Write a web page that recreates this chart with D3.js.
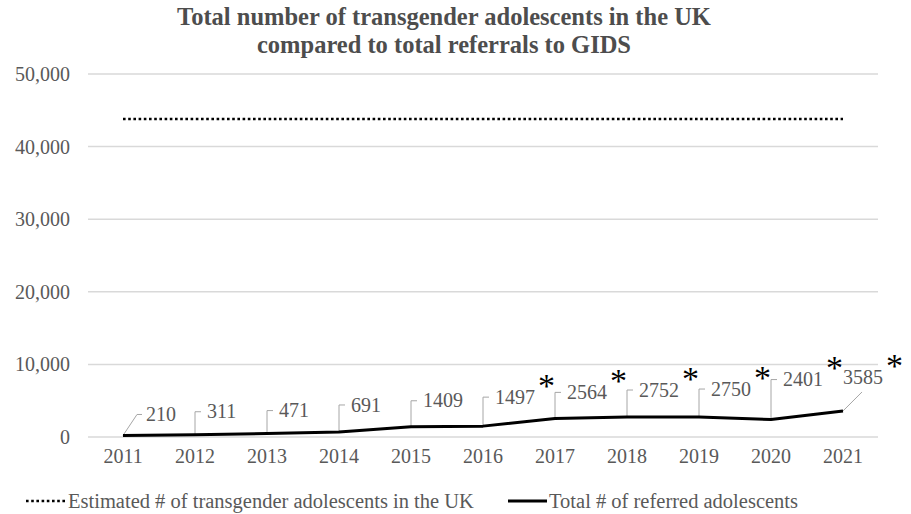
<!DOCTYPE html>
<html>
<head>
<meta charset="utf-8">
<script src="https://cdn.jsdelivr.net/npm/d3@7"></script>
<style>
  body { margin: 0; background: #fff; }
  text { font-family: "Liberation Serif", "DejaVu Serif", serif; fill: #595959; }
</style>
</head>
<body>
<div id="chart"></div>
<script>
// Data
const years = ["2011", "2012", "2013", "2014", "2015", "2016", "2017", "2018", "2019", "2020", "2021"];
const referred = [210, 311, 471, 691, 1409, 1497, 2564, 2752, 2750, 2401, 3585];
const estimated = [43800, 43800, 43800, 43800, 43800, 43800, 43800, 43800, 43800, 43800, 43800];
const starred = ["2016", "2017", "2018", "2019", "2020", "2021"];
const yTicks = [0, 10000, 20000, 30000, 40000, 50000];
const title = ["Total number of transgender adolescents in the UK", "compared to total referrals to GIDS"];
const legendLabels = ["Estimated # of transgender adolescents in the UK", "Total # of referred adolescents"];

// Label leader lifts (px above the point)
const labelLift = [21, 23, 23, 27, 26, 29, 26, 27, 28, 40, 34];

// Configuration
const W = 911, H = 514;
const margin = { top: 74, right: 32, bottom: 77, left: 87 };
const width = W - margin.left - margin.right;
const height = H - margin.top - margin.bottom;

const svg = d3.select("#chart")
    .append("svg")
    .attr("width", W)
    .attr("height", H);

const g = svg.append("g")
    .attr("transform", `translate(${margin.left}, ${margin.top})`);

// Scales
const x = d3.scaleBand().domain(years).range([0, width]);
const cx = d => x(d) + x.bandwidth() / 2;
const y = d3.scaleLinear().domain([0, 50000]).range([height, 0]);

// Gridlines
g.selectAll(".grid")
    .data(yTicks)
    .join("line")
    .attr("class", "grid")
    .attr("x1", 1)
    .attr("x2", width - 1)
    .attr("y1", d => y(d))
    .attr("y2", d => y(d))
    .attr("stroke", "#d9d9d9")
    .attr("stroke-width", 1.5);

// Y axis labels
const yAxis = g.append("g")
    .call(d3.axisLeft(y).tickValues(yTicks).tickFormat(d3.format(",")).tickSize(0).tickPadding(17));
yAxis.select(".domain").remove();
yAxis.selectAll("text")
    .attr("fill", "#595959")
    .style("font-size", "20px")
    .style("font-family", "Liberation Serif, serif");

// X axis labels
const xAxis = g.append("g")
    .attr("transform", `translate(0, ${height})`)
    .call(d3.axisBottom(x).tickSize(0).tickPadding(12));
xAxis.select(".domain").remove();
xAxis.selectAll("text")
    .attr("fill", "#595959")
    .style("font-size", "20px")
    .style("font-family", "Liberation Serif, serif");

// Estimated line (dotted)
const line = d3.line().x(d => cx(d.year)).y(d => y(d.value));
const estData = years.map((yr, i) => ({ year: yr, value: estimated[i] }));
const refData = years.map((yr, i) => ({ year: yr, value: referred[i] }));

g.append("path")
    .datum(estData)
    .attr("fill", "none")
    .attr("stroke", "#000")
    .attr("stroke-width", 2.6)
    .attr("stroke-dasharray", "2.6 2.6")
    .attr("d", line);

// Leader lines and labels
const leaders = g.append("g");
refData.forEach((d, i) => {
    const px = cx(d.year), py = y(d.value);
    const ly = py - labelLift[i];
    let path, tx;
    if (i === 0) {
        path = `M${px},${py}L${px + 14},${ly}L${px + 19},${ly}`;
        tx = px + 23;
    } else if (i === refData.length - 1) {
        path = `M${px},${py}L${px + 19},${py - 19}`;
        tx = px;
    } else {
        path = `M${px},${py}L${px},${ly}L${px + 6},${ly}`;
        tx = px + 12;
    }
    leaders.append("path")
        .attr("d", path)
        .attr("fill", "none")
        .attr("stroke", "#a6a6a6")
        .attr("stroke-width", 1);

    const t = g.append("text")
        .attr("x", tx)
        .attr("y", ly)
        .attr("dy", "0.33em")
        .style("font-size", "20px")
        .text(d.value);
    if (starred.includes(d.year)) {
        t.append("tspan")
            .attr("dx", 3)
            .attr("dy", -7)
            .style("font-size", "34px")
            .style("fill", "#000")
            .text("*");
    }
});

// Referred line (solid)
g.append("path")
    .datum(refData)
    .attr("fill", "none")
    .attr("stroke", "#000")
    .attr("stroke-width", 3)
    .attr("stroke-linejoin", "round")
    .attr("d", line);

// Title
svg.append("text")
    .attr("text-anchor", "middle")
    .style("font-size", "24.5px")
    .style("font-weight", "bold")
    .style("fill", "#4d4d4d")
    .selectAll("tspan")
    .data(title)
    .join("tspan")
    .attr("x", 444)
    .attr("y", (d, i) => 25 + i * 28)
    .text(d => d);

// Legend
const legend = svg.append("g").attr("transform", "translate(0, 501)");
legend.append("line")
    .attr("x1", 26).attr("x2", 66)
    .attr("stroke", "#000")
    .attr("stroke-width", 2.6)
    .attr("stroke-dasharray", "2.6 2.6");
legend.append("text")
    .attr("x", 68)
    .attr("dy", "0.33em")
    .style("font-size", "20.5px")
    .text(legendLabels[0]);
legend.append("line")
    .attr("x1", 508).attr("x2", 547)
    .attr("stroke", "#000")
    .attr("stroke-width", 3);
legend.append("text")
    .attr("x", 549)
    .attr("dy", "0.33em")
    .style("font-size", "20.5px")
    .text(legendLabels[1]);
</script>
</body>
</html>
